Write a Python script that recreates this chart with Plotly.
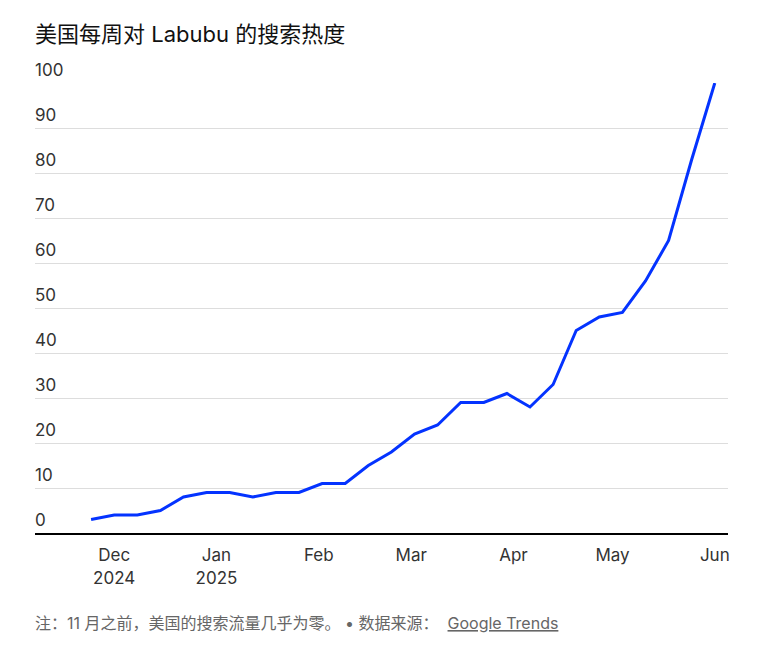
import plotly.graph_objects as go
import pandas as pd

# weekly Google Trends interest, US, "Labubu"
weeks = pd.date_range("2024-11-24", periods=28, freq="7D")
interest = [3, 4, 4, 5, 8, 9, 9, 8, 9, 9, 11, 11, 15, 18, 22, 24, 29, 29, 31, 28,
            33, 45, 48, 49, 56, 65, 83, 100]

tick_dates = ["2024-12-01", "2025-01-01", "2025-02-01", "2025-03-01",
              "2025-04-01", "2025-05-01", "2025-06-01"]
tick_text = ["Dec<br>2024", "Jan<br>2025", "Feb", "Mar", "Apr", "May", "Jun"]
y_ticks = [0, 10, 20, 30, 40, 50, 60, 70, 80, 90, 100]

FONT = "Inter, Noto Sans CJK SC, sans-serif"

fig = go.Figure()
fig.add_trace(go.Scatter(x=weeks, y=interest, mode="lines",
                         line=dict(color="#0433ff", width=3), hoverinfo="x+y"))

# y labels sit above their gridlines, left aligned
for v in y_ticks:
    fig.add_annotation(x=-0.003, xref="paper", y=v, yref="y", text=str(v),
                       showarrow=False, xanchor="left", yanchor="bottom", yshift=1,
                       font=dict(size=17, color="#333333", family=FONT))

fig.add_annotation(x=-0.003, xref="paper", y=1, yref="paper", yshift=64, text="美国每周对 Labubu 的搜索热度",
                   showarrow=False, xanchor="left", yanchor="top",
                   font=dict(size=22, color="#111111", family=FONT))
fig.add_annotation(x=-0.003, xref="paper", y=0, yref="paper", yshift=-78,
                   text="注：11 月之前，美国的搜索流量几乎为零。 • 数据来源：  <u>Google Trends</u>",
                   showarrow=False, xanchor="left", yanchor="top",
                   font=dict(size=16, color="#666666", family=FONT))

# page body adds an 8px offset, so the figure is sized to fit
fig.update_layout(
    width=763, height=638,
    margin=dict(l=27, r=43, t=75, b=113),
    plot_bgcolor="white", paper_bgcolor="white",
    showlegend=False,
    font=dict(family=FONT, color="#333333"),
    xaxis=dict(range=["2024-11-07", "2025-06-05"], tickvals=tick_dates, ticktext=tick_text,
               showgrid=False, showline=True, linecolor="black", linewidth=2,
               ticks="", ticklabelstandoff=6, tickfont=dict(size=17, color="#333333")),
    yaxis=dict(range=[0, 100], tickvals=y_ticks, showticklabels=False,
               gridcolor="#dddddd", gridwidth=1, zeroline=False),
)

fig.write_html("out.html")
